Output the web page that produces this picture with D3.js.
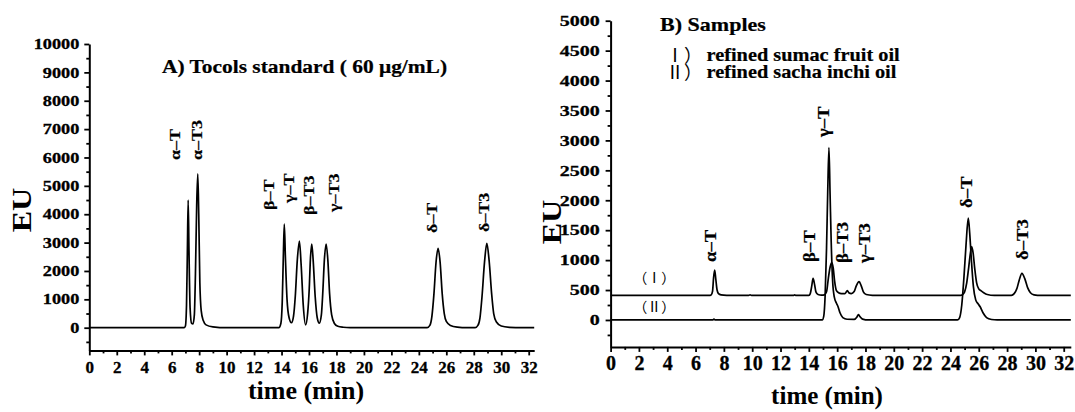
<!DOCTYPE html>
<html><head><meta charset="utf-8">
<script src="https://cdn.jsdelivr.net/npm/d3@7"></script>
<style>
body{margin:0;background:#fff}
text{font-family:"Liberation Serif","Times New Roman",serif;fill:#000}
</style>
</head><body><svg id="c" width="1075" height="412"></svg>
<script>
// ---------- tick values ----------
const xTickLabels = [0,2,4,6,8,10,12,14,16,18,20,22,24,26,28,30,32];
const xMinorTicks = [1,3,5,7,9,11,13,15,17,19,21,23,25,27,29,31];
const stdYTicks = [0,1000,2000,3000,4000,5000,6000,7000,8000,9000,10000];
const stdYMinor = [-500,500,1500,2500,3500,4500,5500,6500,7500,8500,9500];
const sampleYTicks = [0,500,1000,1500,2000,2500,3000,3500,4000,4500,5000];
const sampleYMinor = [-250,250,750,1250,1750,2250,2750,3250,3750,4250,4750];

// ---------- A) Tocols standard chromatogram ----------
const stdTime = [0,6.9,7.0,7.08,7.14,7.2,7.26,7.34,7.45,7.55,7.65,7.73,7.82,7.9,7.97,8.05,8.15,8.3,8.5,9.0,10,
  13.8,13.95,14.05,14.13,14.2,14.28,14.4,14.55,14.72,14.87,15.0,15.15,15.3,15.43,15.58,15.75,15.9,16.02,16.1,16.2,16.3,16.45,16.6,16.75,16.9,17.0,17.12,17.25,17.37,17.5,17.65,17.85,18.1,18.5,19,
  24.6,24.8,24.95,25.1,25.25,25.4,25.55,25.7,25.85,26.0,26.3,26.8,27.5,
  28.1,28.3,28.45,28.6,28.78,28.95,29.12,29.3,29.45,29.65,30.0,30.6,31.5,32.4];
const stdEU = [0,0,60,800,2600,4500,2700,700,150,130,450,1900,4300,5420,4000,1600,600,250,100,30,0,
  0,150,900,2500,3650,2500,1000,350,175,400,1100,2400,3050,2200,800,100,500,1400,2400,2950,2400,1100,350,160,450,1200,2400,2950,2400,1200,450,150,50,15,0,
  0,80,400,1200,2300,2800,2300,1200,500,220,80,20,0,
  0,80,350,1100,2300,2970,2350,1200,500,200,60,15,0,0];

// ---------- B) Samples ----------
// (I) refined sumac fruit oil (plotted with its display offset)
const sumacTime = [0,6.95,7.1,7.2,7.27,7.35,7.43,7.52,7.62,7.8,8.2,9.0,9.75,9.85,9.95,12.9,13.0,13.1,
  14.0,14.1,14.2,14.3,14.4,14.5,14.65,14.9,15.1,15.25,15.38,15.5,15.62,15.72,15.82,15.95,16.1,16.3,16.55,16.65,16.72,16.82,17.0,17.2,17.35,17.55,17.7,17.85,18.05,18.5,19.0,
  24.7,24.85,25.0,25.15,25.3,25.4,25.5,25.6,25.72,25.85,26.0,26.15,26.35,26.6,27.1,
  28.3,28.5,28.7,28.85,29.05,29.25,29.45,29.65,29.9,30.4,32.5];
const sumacEU = [410,410,418,480,700,835,680,500,440,420,412,410,410,420,410,410,418,410,
  410,440,560,696,600,470,425,415,420,470,700,880,960,870,650,490,455,440,440,470,490,455,440,475,570,640,570,470,425,412,410,
  410,425,470,620,900,1100,1225,1120,850,620,520,490,455,425,410,
  410,440,530,660,780,690,540,455,420,410,410];
// (II) refined sacha inchi oil
const sachaTime = [0,7.2,7.3,7.4,14.95,15.05,15.15,15.25,15.33,15.42,15.5,15.58,15.68,15.8,15.95,16.05,16.2,16.4,16.7,17.2,17.4,17.5,17.6,17.8,18.2,
  24.5,24.65,24.8,24.95,25.1,25.26,25.36,25.48,25.62,25.78,25.95,26.1,26.3,26.55,26.9,27.3,32.5];
const sachaEU = [0,0,15,0,0,60,400,1200,2100,2880,2100,1300,650,380,280,230,120,40,12,10,50,90,60,15,0,
  0,40,250,700,1250,1700,1450,1000,560,340,270,220,120,40,8,0,0];

// ---------- peak labels (anchored at data coordinates) ----------
const stdPeakNames = ["α–T","α–T3","β–T","γ–T","β–T3","γ–T3","δ–T","δ–T3"];
const stdPeakLabelTime = [6.57,8.24,13.45,14.9,16.37,18.15,25.3,29.1];
const stdPeakLabelEU = [5910,5910,4150,4395,3972,4080,3340,3375];
const samplePeakNames = ["α–T","β–T","γ–T","β–T3","γ–T3","δ–T","δ–T3"];
const samplePeakLabelTime = [7.44,14.43,15.42,16.77,18.32,25.52,29.48];
const samplePeakLabelEU = [970,970,3057,952,952,1871,1002];
const traceNames = ["（Ⅰ）","（Ⅱ）"];
const traceLabelTime = [1.6,1.6];
const traceLabelEU = [620,135];
const legendMarks = ["Ⅰ）","Ⅱ）"];
const legendNames = ["refined sumac fruit oil","refined sacha inchi oil"];

// ---------- drawing ----------
const SERIF = '"Liberation Serif","Times New Roman",serif';
const svg = d3.select("#c");
svg.append("rect").attr("width",1075).attr("height",412).attr("fill","#fff");

function txt(g, x, y, str, o) {
  return g.append("text")
    .attr("transform", `translate(${x},${y}) rotate(${o.rot||0}) scale(${o.sx||1},1)`)
    .attr("text-anchor", o.anchor||"start")
    .attr("font-size", o.size)
    .attr("font-weight", o.weight||"bold")
    .attr("stroke", o.heavy ? "#000" : null)
    .attr("stroke-width", o.heavy ? o.heavy : null)
    .style("font-family", o.family || SERIF)
    .text(str);
}

function panel(cfg) {
  const g = svg.append("g");
  const x = d3.scaleLinear().domain(cfg.xDomain).range(cfg.xRange);
  const y = d3.scaleLinear().domain(cfg.yDomain).range(cfg.yRange);
  const y0 = y(cfg.yDomain[0]);

  // minor ticks
  g.append("g").attr("transform",`translate(0,${y0})`)
    .call(d3.axisBottom(x).tickValues(xMinorTicks).tickSize(3).tickFormat("").tickSizeOuter(0))
    .call(a=>a.select(".domain").remove());
  g.append("g").attr("transform",`translate(${cfg.xRange[0]},0)`)
    .call(d3.axisLeft(y).tickValues(cfg.yMinor).tickSize(3).tickFormat("").tickSizeOuter(0))
    .call(a=>a.select(".domain").remove());

  // x axis
  const gx = g.append("g").attr("transform",`translate(0,${y0})`)
    .call(d3.axisBottom(x).tickValues(xTickLabels).tickFormat(d3.format("d")).tickSize(5).tickSizeOuter(0).tickPadding(cfg.xPad));
  gx.selectAll("text").attr("font-size",cfg.xFont).attr("font-weight","bold")
    .attr("stroke","#000").attr("stroke-width",0.3)
    .style("font-family",SERIF);
  // y axis
  const gy = g.append("g").attr("transform",`translate(${cfg.xRange[0]},0)`)
    .call(d3.axisLeft(y).tickValues(cfg.yTicks).tickFormat(d3.format("d")).tickSize(5).tickSizeOuter(0));
  gy.selectAll("text").attr("font-size",cfg.yFont).attr("font-weight","bold")
    .attr("stroke","#000").attr("stroke-width",0.3)
    .style("font-family",SERIF)
    .attr("x", -cfg.yGap/cfg.ySx).attr("transform",`scale(${cfg.ySx},1)`);
  g.selectAll(".domain").attr("stroke","#000").attr("stroke-width",2);
  g.selectAll(".tick line").attr("stroke","#000").attr("stroke-width",1.8);

  // traces
  const line = d3.line().x(d=>x(d[0])).y(d=>y(d[1])).curve(d3.curveMonotoneX);
  cfg.series.forEach(s=>{
    g.append("path").datum(d3.zip(s.t, s.v)).attr("d", line)
      .attr("fill","none").attr("stroke","#000").attr("stroke-width",1.7).attr("stroke-linejoin","round");
  });

  // peak labels
  cfg.peaks.names.forEach((n,i)=>{
    txt(g, x(cfg.peaks.t[i]), y(cfg.peaks.v[i]), n, {rot:-90, size:cfg.peaks.size, sx:cfg.peaks.sx, heavy:0.2});
  });

  // axis titles
  txt(g, cfg.euPos[0], cfg.euPos[1], "EU", {rot:-90, size:28, sx:1.15, anchor:"middle"});
  txt(g, cfg.timePos[0], cfg.timePos[1], "time (min)", {size:cfg.timeSize, anchor:"middle"});
  return {g,x,y};
}

const A = panel({
  xDomain:[0,32.4], xRange:[89.3,534.2], yDomain:[-800,10000], yRange:[350.4,44],
  yTicks:stdYTicks, yMinor:stdYMinor, xFont:17, xPad:6, yFont:14.5, ySx:1.26, yGap:10,
  series:[{t:stdTime, v:stdEU}],
  peaks:{names:stdPeakNames, t:stdPeakLabelTime, v:stdPeakLabelEU, size:15, sx:1.2},
  euPos:[31,210], timePos:[306,399], timeSize:26
});
txt(A.g, 162, 73, "A) Tocols standard ( 60 μg/mL)", {size:18, sx:1.19, heavy:0.2});

const B = panel({
  xDomain:[0,32.5], xRange:[610.6,1070.8], yDomain:[-450,5000], yRange:[346.9,20.7],
  yTicks:sampleYTicks, yMinor:sampleYMinor, xFont:20, xPad:4, yFont:15, ySx:1.33, yGap:11,
  series:[{t:sumacTime, v:sumacEU},{t:sachaTime, v:sachaEU}],
  peaks:{names:samplePeakNames, t:samplePeakLabelTime, v:samplePeakLabelEU, size:17, sx:1.1},
  euPos:[561,222], timePos:[827,404], timeSize:25
});
txt(B.g, 660, 31, "B) Samples", {size:19, sx:1.16, heavy:0.2});
const cjk = '"Noto Sans CJK SC","Liberation Serif",serif';
legendMarks.forEach((m,i)=>{
  txt(B.g, 666, 62+i*17, m, {size:18, weight:"normal", family:cjk});
  txt(B.g, 706.5, 61+i*17, legendNames[i], {size:18, sx:1.13, heavy:0.2});
});
traceNames.forEach((n,i)=>{
  txt(B.g, B.x(traceLabelTime[i]), B.y(traceLabelEU[i]), n, {size:14, weight:"normal", family:cjk});
});
</script>
</body></html>
